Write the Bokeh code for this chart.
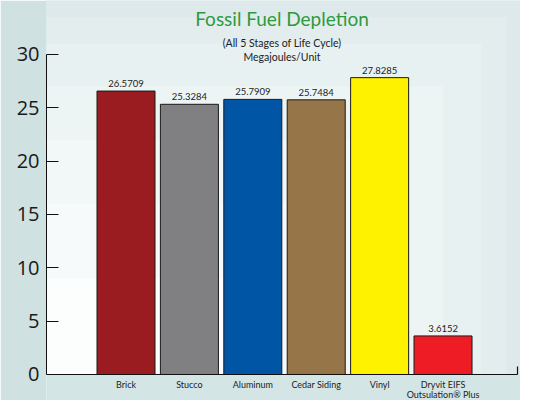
from bokeh.plotting import figure
from bokeh.models import ColumnDataSource, FixedTicker, Label, Range1d, BoxAnnotation
from bokeh.core.properties import value
from bokeh.embed import file_html
from bokeh.resources import INLINE

categories = ["Brick", "Stucco", "Aluminum", "Cedar Siding", "Vinyl", "Dryvit EIFS\nOutsulation\u00ae Plus"]
values = [26.5709, 25.3284, 25.7909, 25.7484, 27.8285, 3.6152]
value_labels = ["26.5709", "25.3284", "25.7909", "25.7484", "27.8285", "3.6152"]
colors = ["#9b1c20", "#808083", "#0055a4", "#967549", "#fff200", "#ee1c25"]
y_ticks = [0, 5, 10, 15, 20, 25, 30]

xs = list(range(len(categories)))
line1 = [c.split("\n")[0] for c in categories]
line2 = [c.split("\n")[1] if "\n" in c else "" for c in categories]
src = ColumnDataSource(dict(x=xs, top=values, lbl=value_labels, color=colors, l1=line1, l2=line2))

X0, X1 = -1.254, 6.222
XE = 6.175
Y0, Y1 = -2.4375, 35.06
p = figure(width=520, height=400, output_backend="svg", toolbar_location=None,
           x_range=Range1d(X0, X1), y_range=Range1d(Y0, Y1),
           min_border_left=46, min_border_right=0, min_border_top=0, min_border_bottom=0)
p.border_fill_color = "#cfe1e1"
p.background_fill_color = "#d4e5e5"
p.outline_line_color = None
p.grid.visible = False
p.xaxis.visible = False

# soft background gradient (lighter toward lower left)
shades = [(Y1, X1, "#dde9ea"), (33.5, 6.0, "#e3eded"), (31, 5.6, "#e8f1f1"),
          (27, 5.0, "#edf4f4"), (22, 4.2, "#f2f7f7"), (16, 3.2, "#f7fafa"), (9, 2.0, "#fcfdfd")]
for top, right, col in shades:
    p.add_layout(BoxAnnotation(bottom=0, top=top, left=X0, right=right, fill_color=col,
                               fill_alpha=1, line_color=None, level="underlay"))

p.vbar(x="x", top="top", width=0.915, bottom=0, fill_color="color", line_color="#1a1a1a",
       line_width=1, source=src)
p.text(x="x", y="top", text="lbl", source=src, text_align="center", text_baseline="bottom",
       y_offset=-4, text_font=value("Lato"), text_font_size="9.5px", text_color="#222222")

# baseline and end tick
p.segment(x0=[X0], y0=[0], x1=[XE], y1=[0], line_color="#111111", line_width=1.2)
p.segment(x0=[XE], y0=[0], x1=[XE], y1=[0.75], line_color="#111111", line_width=1.2)

# category labels (two rows)
p.text(x="x", y=0, text="l1", source=src, text_align="center", text_baseline="middle",
       y_offset=10, text_font=value("Lato"), text_font_size="9px", text_color="#222222")
p.text(x="x", y=0, text="l2", source=src, text_align="center", text_baseline="middle",
       y_offset=20, text_font=value("Lato"), text_font_size="9px", text_color="#222222")

# y axis
ya = p.yaxis[0]
ya.ticker = FixedTicker(ticks=y_ticks)
ya.bounds = (0, 30)
ya.major_tick_in = 12
ya.major_tick_out = 0
ya.minor_tick_line_color = None
ya.axis_line_color = "#111111"
ya.major_tick_line_color = "#111111"
ya.major_label_text_font = "Open Sans"
ya.major_label_text_font_size = "20px"
ya.major_label_text_color = "#1a1a1a"
ya.major_label_standoff = 7

# titles
p.add_layout(Label(x=2.46, y=33.375, text="Fossil Fuel Depletion", text_align="center",
                   text_baseline="middle", text_font="Lato", text_font_size="19px",
                   text_color="#2e9a3e"))
p.add_layout(Label(x=2.46, y=31.03, text="(All 5 Stages of Life Cycle)", text_align="center",
                   text_baseline="middle", text_font="Lato", text_font_size="10.5px",
                   text_color="#222222"))
p.add_layout(Label(x=2.46, y=29.72, text="Megajoules/Unit", text_align="center",
                   text_baseline="middle", text_font="Lato", text_font_size="10.5px",
                   text_color="#222222"))

open("out.html", "w").write(file_html(p, INLINE))
